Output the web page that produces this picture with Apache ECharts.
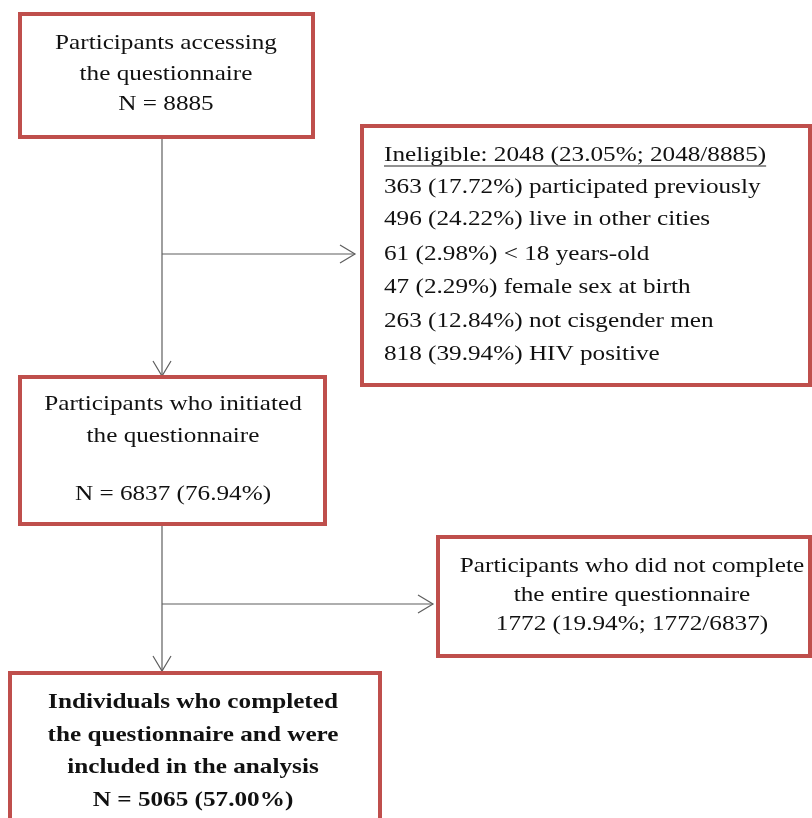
<!DOCTYPE html>
<html>
<head>
<meta charset="utf-8">
<script src="https://cdn.jsdelivr.net/npm/echarts@6/dist/echarts.min.js"></script>
<style>
  html, body { margin: 0; padding: 0; background: #fff; }
  #chart { width: 812px; height: 818px; }
</style>
</head>
<body>
<div id="chart"></div>
<script>
// 流程图各框的文字
const accessLines = ['Participants accessing', 'the questionnaire', 'N = 8885'];
const ineligibleTitle = 'Ineligible: 2048 (23.05%; 2048/8885)';
const ineligibleLines = [
  '363 (17.72%) participated previously',
  '496 (24.22%) live in other cities',
  '61 (2.98%) < 18 years-old',
  '47 (2.29%) female sex at birth',
  '263 (12.84%) not cisgender men',
  '818 (39.94%) HIV positive'
];
const initiatedLines = ['Participants who initiated', 'the questionnaire', '', 'N = 6837 (76.94%)'];
const incompleteLines = ['Participants who did not complete', 'the entire questionnaire', '1772 (19.94%; 1772/6837)'];
const finalLines = ['Individuals who completed', 'the questionnaire and were', 'included in the analysis', 'N = 5065 (57.00%)'];

const FONT = '"Liberation Serif", "Times New Roman", serif';
const BORDER = '#bf4f4c';
const LINE = '#5e5e5e';
const FS = 21;
const SX = 1.2; // 原图文字横向略拉伸

// 测量文字宽度（用于下划线）
function textWidth(str, size, weight) {
  const c = document.createElement('canvas').getContext('2d');
  c.font = (weight || 'normal') + ' ' + size + 'px ' + FONT;
  return c.measureText(str).width;
}

function box(x, y, w, h) {
  return {
    type: 'rect',
    shape: { x: x, y: y, width: w, height: h },
    style: { fill: '#fff', stroke: BORDER, lineWidth: 4 }
  };
}

function label(t, x, y, align, bold) {
  return {
    type: 'text',
    x: x, y: y, scaleX: SX,
    style: {
      text: t, fill: '#111', font: (bold ? 'bold ' : '') + FS + 'px ' + FONT,
      align: align, verticalAlign: 'middle'
    }
  };
}

function centeredText(lines, cx, ys, bold) {
  return lines.map((t, i) => label(t, cx, ys[i], 'center', bold));
}

function seg(points) {
  return { type: 'polyline', shape: { points: points }, style: { stroke: LINE, lineWidth: 1.2, fill: null } };
}

// 开口箭头
function arrowDown(x, y) {
  return seg([[x - 9, y - 15], [x, y], [x + 9, y - 15]]);
}
function arrowRight(x, y) {
  return seg([[x - 15, y - 9], [x, y], [x - 15, y + 9]]);
}

const elements = [];

// 连接线
elements.push(seg([[162, 137], [162, 376]]));
elements.push(arrowDown(162, 376));
elements.push(seg([[162, 254], [355, 254]]));
elements.push(arrowRight(355, 254));
elements.push(seg([[162, 524], [162, 671]]));
elements.push(arrowDown(162, 671));
elements.push(seg([[162, 604], [433, 604]]));
elements.push(arrowRight(433, 604));

// 框
elements.push(box(20, 14, 293, 123));
elements.push(box(362, 126, 448, 259));
elements.push(box(20, 377, 305, 147));
elements.push(box(438, 537, 372, 119));
elements.push(box(10, 673, 370, 160));

// 文字
elements.push(...centeredText(accessLines, 166, [43, 74, 104]));
elements.push(...centeredText(initiatedLines, 173, [404, 436, 465, 494]));
elements.push(...centeredText(incompleteLines, 632, [566, 595, 624]));
elements.push(...centeredText(finalLines, 193, [703, 736, 768, 801], true));

const listYs = [187, 219, 254, 287, 321, 354];
elements.push(label(ineligibleTitle, 384, 155, 'left'));
const uw = textWidth(ineligibleTitle, FS) * SX;
elements.push({ type: 'line', shape: { x1: 384, y1: 166, x2: 384 + uw, y2: 166 }, style: { stroke: '#222', lineWidth: 1 } });
ineligibleLines.forEach((t, i) => {
  elements.push(label(t, 384, listYs[i], 'left'));
});

const chart = echarts.init(document.getElementById('chart'));
chart.setOption({
  backgroundColor: '#fff',
  animation: false,
  graphic: { elements: elements }
});
</script>
</body>
</html>
